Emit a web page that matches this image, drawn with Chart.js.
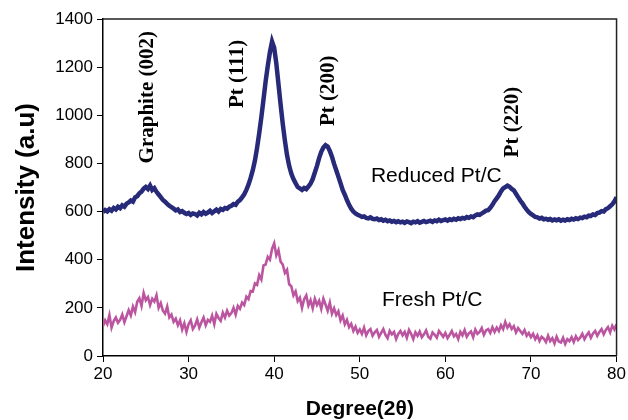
<!DOCTYPE html>
<html>
<head>
<meta charset="utf-8">
<script src="https://cdn.jsdelivr.net/npm/chart.js@4.4.0/dist/chart.umd.min.js"></script>
<style>
  body { margin: 0; background: #fff; }
  #wrap { width: 628px; height: 420px; }
</style>
</head>
<body>
<div id="wrap"><canvas id="xrdChart" width="628" height="420"></canvas></div>
<script>
// XRD scan, 2-theta from 20 to 80 deg, one reading every 0.25 deg
const startDeg = 20;
const stepDeg = 0.25;

const reduced = [
    598, 606, 601, 610, 604, 615, 609, 620, 614, 626, 620, 633, 638, 646, 641, 659, 664, 676, 683, 695,
    702, 694, 708, 690, 697, 682, 671, 660, 648, 641, 632, 624, 618, 612, 605, 609, 598, 602, 595, 590,
    594, 586, 592, 590, 584, 595, 589, 598, 591, 596, 603, 594, 601, 608, 600, 611, 607, 615, 612, 620,
    624, 631, 628, 641, 648, 659, 672, 690, 712, 740, 772, 812, 865, 925, 992, 1065, 1140, 1205, 1262, 1306,
    1280, 1215, 1130, 1045, 965, 895, 835, 790, 758, 735, 718, 702, 696, 690, 698, 693, 704, 716, 735, 762,
    790, 822, 848, 866, 876, 870, 852, 828, 798, 772, 745, 718, 690, 670, 648, 628, 612, 600, 592, 587,
    583, 578, 580, 574, 572, 576, 570, 568, 571, 565, 568, 562, 566, 560, 563, 558, 561, 556, 560, 555,
    558, 553, 559, 556, 552, 558, 555, 560, 554, 557, 561, 556, 559, 562, 557, 563, 560, 566, 561, 564,
    567, 562, 568, 565, 570, 566, 572, 569, 574, 571, 577, 574, 580, 577, 584, 588, 586, 592, 598, 604,
    606, 616, 628, 643, 655, 668, 684, 696, 702, 708, 703, 694, 688, 674, 660, 646, 634, 620, 608, 598,
    590, 584, 578, 576, 571, 574, 568, 570, 566, 569, 563, 567, 564, 568, 562, 566, 563, 568, 565, 570,
    567, 572, 569, 575, 573, 579, 576, 583, 582, 588, 586, 594, 596, 602, 600, 610, 614, 622, 630, 642,
    660
];

const fresh = [
    125, 148, 132, 170, 118, 145, 160, 138, 150, 172, 140, 165, 190, 168, 205, 182, 225, 240, 208, 262,
    232, 245, 212, 238, 226, 252, 200, 220, 188, 176, 205, 160, 172, 142, 155, 128, 148, 110, 136, 100,
    132, 148, 112, 126, 152, 118, 140, 160, 128, 150, 142, 168, 132, 175, 158, 146, 180, 160, 188, 168,
    178, 200, 172, 208, 196, 222, 212, 246, 236, 270, 268, 302, 296, 336, 318, 376, 380, 412, 400, 445,
    468, 418, 440, 392, 380, 345, 358, 298, 290, 252, 268, 228, 242, 200, 236, 252, 210, 232, 198, 238,
    212, 230, 196, 238, 214, 188, 222, 176, 198, 170, 186, 148, 168, 132, 150, 120, 134, 104, 122, 96,
    110, 92, 118, 86, 104, 112, 84, 98, 108, 80, 96, 112, 88, 74, 104, 90, 100, 70, 92, 104,
    86, 100, 76, 108, 92, 70, 98, 84, 102, 78, 90, 106, 80, 72, 98, 88, 76, 104, 92, 80,
    96, 74, 88, 104, 82, 92, 70, 100, 86, 108, 80, 94, 102, 78, 110, 92, 100, 116, 88, 106,
    112, 96, 120, 100, 118, 104, 128, 112, 142, 118, 132, 112, 124, 98, 116, 104, 92, 108, 84, 96,
    78, 92, 70, 86, 62, 80, 72, 58, 84, 62, 74, 52, 80, 60, 56, 76, 50, 70, 62, 78,
    58, 82, 66, 76, 92, 70, 86, 98, 76, 94, 104, 84, 100, 112, 90, 108, 120, 98, 126, 110,
    132
];

const xTicks = [20, 30, 40, 50, 60, 70, 80];
const yTicks = [0, 200, 400, 600, 800, 1000, 1200, 1400];
const peakNames = ["Graphite (002)", "Pt (111)", "Pt (200)", "Pt (220)"];
const seriesNames = ["Reduced Pt/C", "Fresh Pt/C"];

function toPoints(vals) {
    return vals.map((v, i) => { return { x: startDeg + i * stepDeg, y: v } });
}

// text placed in data units
const notes = [
    { text: peakNames[0], x: 25.2, y: 800, rot: true },
    { text: peakNames[1], x: 35.7, y: 1030, rot: true },
    { text: peakNames[2], x: 46.3, y: 955, rot: true },
    { text: peakNames[3], x: 67.8, y: 825, rot: true },
    { text: seriesNames[0], x: 51.3, y: 745, rot: false },
    { text: seriesNames[1], x: 52.6, y: 232, rot: false },
];

const notesPlugin = {
    id: 'notes',
    afterDatasetsDraw(chart) {
        const c = chart.ctx;
        const xs = chart.scales.x, ys = chart.scales.y;
        c.save();
        c.fillStyle = '#000';
        notes.forEach((n) => {
            let px = xs.getPixelForValue(n.x);
            let py = ys.getPixelForValue(n.y);
            c.save();
            c.translate(px, py);
            if (n.rot) {
                c.rotate(-Math.PI / 2);
                c.font = 'bold 21px "Liberation Serif"';
            } else {
                c.font = '21px "Liberation Sans"';
            }
            c.textAlign = 'left';
            c.textBaseline = 'middle';
            c.fillText(n.text, 0, 0);
            c.restore();
        });
        c.restore();
    },
    afterDraw(chart) {
        // frame on top and right
        const a = chart.chartArea;
        const c = chart.ctx;
        c.save();
        c.strokeStyle = '#222';
        c.lineWidth = 1.5;
        c.beginPath();
        c.moveTo(a.left, a.top);
        c.lineTo(a.right, a.top);
        c.lineTo(a.right, a.bottom);
        c.stroke();
        c.restore();
    }
};

const ctx = document.getElementById('xrdChart');

new Chart(ctx, {
    type: 'line',
    data: {
        datasets: [{
            label: seriesNames[0],
            data: toPoints(reduced),
            borderColor: "#272a78",
            borderWidth: 4.5,
            pointRadius: 0,
            tension: 0,
        }, {
            label: seriesNames[1],
            data: toPoints(fresh),
            borderColor: "#bb55a0",
            borderWidth: 2.6,
            pointRadius: 0,
            tension: 0,
        }]
    },
    options: {
        responsive: false,
        animation: false,
        devicePixelRatio: 1,
        layout: {
            padding: { top: 19, right: 10, left: 0, bottom: 0 }
        },
        plugins: {
            legend: { display: false },
            tooltip: { enabled: false }
        },
        scales: {
            x: {
                type: 'linear',
                min: 20,
                max: 80,
                afterBuildTicks: (s) => { s.ticks = xTicks.map((v) => { return { value: v } }) },
                afterFit: (s) => { s.height = 64 },
                ticks: {
                    color: '#000',
                    font: { family: 'Liberation Sans', size: 17 },
                    padding: 2,
                    maxRotation: 0,
                    callback: (v) => String(v),
                },
                grid: {
                    drawOnChartArea: false,
                    drawTicks: true,
                    tickLength: 6,
                    color: '#000',
                },
                border: { display: true, color: '#000', width: 1.5 },
                title: {
                    display: true,
                    text: 'Degree(2θ)',
                    color: '#000',
                    font: { family: 'Liberation Sans', size: 21, weight: 'bold' },
                    padding: { top: 6, bottom: -2 }
                }
            },
            y: {
                min: 0,
                max: 1400,
                afterBuildTicks: (s) => { s.ticks = yTicks.map((v) => { return { value: v } }) },
                afterFit: (s) => { s.width = 103 },
                ticks: {
                    color: '#000',
                    font: { family: 'Liberation Sans', size: 17 },
                    padding: 4,
                    callback: (v) => String(v),
                },
                grid: {
                    drawOnChartArea: false,
                    drawTicks: true,
                    tickLength: 6,
                    color: '#000',
                },
                border: { display: true, color: '#000', width: 1.5 },
                title: {
                    display: true,
                    text: 'Intensity (a.u)',
                    color: '#000',
                    font: { family: 'Liberation Sans', size: 26, weight: 'bold' },
                    padding: { top: 11, bottom: 8 }
                }
            }
        }
    },
    plugins: [notesPlugin]
});
</script>
</body>
</html>
